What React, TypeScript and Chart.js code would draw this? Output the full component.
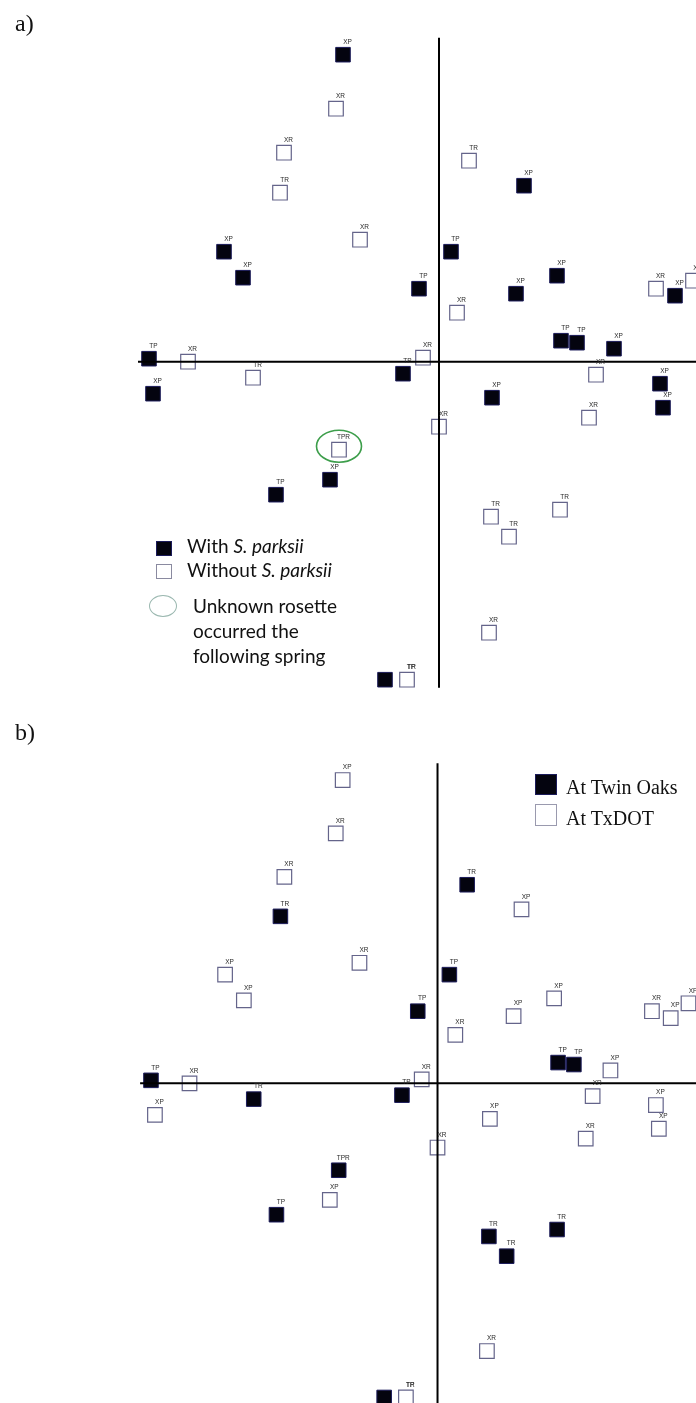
import React, { useEffect, useRef } from "react";
import { Chart, registerables } from "chart.js";

Chart.register(...registerables);

// Sample plots placed by their scores on ordination axes 1 and 2
const plotLabels = [
  "XP", "XP", "XP", "TP", "TP", "TP", "XP", "XP", "TP", "TP", "XP",
  "TP", "XP", "XP", "XP", "TP", "TP", "XP", "XP", "XP", "XP",
  "XR", "XR", "TR", "XR", "XR", "XR", "TR", "XR", "TPR", "TR",
  "TR", "XR", "XR", "XP", "XR", "XR", "TR", "TR", "TR", "XR",
];

const axis1Scores = [
  -0.96, -2.15, -1.96, -0.2, -2.9, -0.36, -2.86, -1.09, -1.63, -0.54, 0.85,
  0.12, 0.77, 1.18, 2.36, 1.22, 1.38, 1.75, 2.21, 2.24, 0.53,
  -1.03, -1.55, -1.59, -0.79, -2.51, -0.16, -1.86, 0.0, -1.0, -0.32,
  0.3, 0.18, 2.17, 2.54, 1.57, 1.5, 0.52, 0.7, 1.21, 0.5,
];

const axis2Scores = [
  3.07, 1.1, 0.84, 0.73, 0.03, -0.12, -0.32, -1.18, -1.33, -3.18, 1.76,
  1.1, 0.68, 0.86, 0.66, 0.21, 0.19, 0.13, -0.22, -0.46, -0.36,
  2.53, 2.09, 1.69, 1.22, 0.0, 0.04, -0.16, -0.65, -0.88, -3.18,
  2.01, 0.49, 0.73, 0.81, -0.13, -0.56, -1.55, -1.75, -1.48, -2.71,
];

// Plots where S. parksii was present
const withParksii = [
  true, true, true, true, true, true, true, true, true, true, true,
  true, true, true, true, true, true, true, true, true, true,
  false, false, false, false, false, false, false, false, false, false,
  false, false, false, false, false, false, false, false, false, false,
];

// Plots located at the Twin Oaks site (others at TxDOT)
const atTwinOaks = [
  false, false, false, true, true, true, false, false, true, true, false,
  true, false, false, false, true, true, false, false, false, false,
  false, false, true, false, false, false, true, false, true, false,
  true, false, false, false, false, false, true, true, true, false,
];

// Plot whose rosette appeared the following spring
const unknownRosettePlot = "TPR";

const FILLED = { backgroundColor: "#04040f", borderColor: "#1b1b5a", borderWidth: 1 };
const OPEN = { backgroundColor: "#ffffff", borderColor: "#64648a", borderWidth: 1.2 };

// label nudges for crowded spots (pixels)
const labelShift: Record<number, [number, number]> = { 9: [26, -12.5] };

function buildDatasets(flags: boolean[], names: [string, string]) {
  const make = (want: boolean) =>
    plotLabels
      .map((label, i) => ({ x: axis1Scores[i], y: axis2Scores[i], label, idx: i, on: flags[i] }))
      .filter((p) => p.on === want);
  return [
    { label: names[0], data: make(true), ...FILLED },
    { label: names[1], data: make(false), ...OPEN },
  ].map((d) => ({
    ...d,
    pointStyle: "rect" as const,
    pointRadius: 10.3,
    pointHoverRadius: 10.3,
    showLine: false,
  }));
}

const ordinationPlugin = {
  id: "ordination",
  afterDatasetsDraw(chart: any, _args: any, opts: any) {
    const { ctx, chartArea, scales } = chart;
    const xs = scales.x;
    const ys = scales.y;
    ctx.save();

    // axes crossing at the origin
    const x0 = xs.getPixelForValue(0);
    const y0 = ys.getPixelForValue(0);
    ctx.strokeStyle = "#000";
    ctx.lineWidth = 2;
    ctx.beginPath();
    ctx.moveTo(xs.getPixelForValue(opts.axisLeft), y0);
    ctx.lineTo(chartArea.right, y0);
    ctx.moveTo(x0, ys.getPixelForValue(opts.axisTop));
    ctx.lineTo(x0, ys.getPixelForValue(opts.axisBottom));
    ctx.stroke();

    // plot labels
    ctx.font = '6.5px "Liberation Sans", Arial, sans-serif';
    ctx.fillStyle = "#2a2a2a";
    ctx.textAlign = "center";
    ctx.textBaseline = "middle";
    chart.data.datasets.forEach((ds: any, di: number) => {
      const meta = chart.getDatasetMeta(di);
      meta.data.forEach((el: any, i: number) => {
        const p = ds.data[i];
        const [dx, dy] = labelShift[p.idx] || [4.5, -12.5];
        ctx.fillText(p.label, el.x + dx, el.y + dy);
        if (opts.ring && p.label === opts.ring) {
          ctx.strokeStyle = "#3d9e4b";
          ctx.lineWidth = 1.6;
          ctx.beginPath();
          ctx.ellipse(el.x, el.y - 3.5, 22.5, 16, 0, 0, Math.PI * 2);
          ctx.stroke();
        }
      });
    });
    ctx.restore();
  },
};

type PanelProps = {
  top: number;
  height: number;
  flags: boolean[];
  names: [string, string];
  xRange: [number, number];
  yRange: [number, number];
  axisBottom: number;
  ring?: string;
};

function Panel({ top, height, flags, names, xRange, yRange, axisBottom, ring }: PanelProps) {
  const ref = useRef<HTMLCanvasElement>(null);
  useEffect(() => {
    if (!ref.current) return;
    const chart = new Chart(ref.current, {
      type: "scatter",
      data: { datasets: buildDatasets(flags, names) as any },
      options: {
        animation: false,
        responsive: false,
        maintainAspectRatio: false,
        events: [],
        layout: { padding: 0, autoPadding: false },
        plugins: {
          legend: { display: false },
          tooltip: { enabled: false },
          ordination: { axisLeft: -3.01, axisTop: 3.24, axisBottom, ring },
        } as any,
        scales: {
          x: { type: "linear", display: false, min: xRange[0], max: xRange[1] },
          y: { type: "linear", display: false, min: yRange[0], max: yRange[1] },
        },
      },
      plugins: [ordinationPlugin],
    });
    return () => chart.destroy();
  }, []);
  return (
    <canvas
      ref={ref}
      width={696}
      height={height}
      style={{ position: "absolute", left: 0, top, width: 696, height, display: "block" }}
    />
  );
}

const sans = 'Lato, "Open Sans", sans-serif';
const serif = '"Liberation Serif", "Times New Roman", serif';

function Txt({ left, top, size, font, children }: any) {
  return (
    <div
      style={{
        position: "absolute",
        left,
        top,
        fontFamily: font,
        fontSize: size,
        lineHeight: `${size}px`,
        whiteSpace: "nowrap",
        color: "#111",
      }}
    >
      {children}
    </div>
  );
}

function Box({ left, top, w, h, filled, border }: any) {
  return (
    <div
      style={{
        position: "absolute",
        left,
        top,
        width: w,
        height: h,
        boxSizing: "border-box",
        background: filled ? "#04040f" : "#fff",
        border: `1px solid ${border}`,
      }}
    />
  );
}

export default function App() {
  return (
    <div style={{ position: "absolute", left: 0, top: 0, width: 696, height: 1403, background: "#fff", overflow: "hidden" }}>
      <Panel
        top={0}
        height={700}
        flags={withParksii}
        names={["With S. parksii", "Without S. parksii"]}
        xRange={[-4.39, 2.57]}
        yRange={[-3.383, 3.617]}
        axisBottom={-3.26}
        ring={unknownRosettePlot}
      />
      <Panel
        top={700}
        height={703}
        flags={atTwinOaks}
        names={["At Twin Oaks", "At TxDOT"]}
        xRange={[-4.428, 2.616]}
        yRange={[-3.236, 3.88]}
        axisBottom={-3.3}
      />

      <Txt left={15} top={11} size={24} font={serif}>a)</Txt>
      <Txt left={15} top={720} size={24} font={serif}>b)</Txt>

      {/* legend, panel a */}
      <Box left={156} top={541} w={16} h={15} filled border="#1b1b5a" />
      <Txt left={187} top={536} size={19} font={sans}>
        With <i>S. parksii</i>
      </Txt>
      <Box left={156} top={564} w={16} h={15} border="#8a8aa0" />
      <Txt left={187} top={560} size={19} font={sans}>
        Without <i>S. parksii</i>
      </Txt>
      <div
        style={{
          position: "absolute",
          left: 149,
          top: 595,
          width: 28,
          height: 22,
          boxSizing: "border-box",
          border: "1.2px solid #9bb8b0",
          borderRadius: "50%",
        }}
      />
      <Txt left={193} top={596} size={19} font={sans}>Unknown rosette</Txt>
      <Txt left={193} top={621} size={19} font={sans}>occurred the</Txt>
      <Txt left={193} top={646} size={19} font={sans}>following spring</Txt>

      {/* legend, panel b */}
      <Box left={535} top={774} w={22} h={21} filled border="#1b1b5a" />
      <Txt left={566} top={777} size={20} font={serif}>At Twin Oaks</Txt>
      <Box left={535} top={804} w={22} h={22} border="#9a9aae" />
      <Txt left={566} top={808} size={20} font={serif}>At TxDOT</Txt>
    </div>
  );
}
